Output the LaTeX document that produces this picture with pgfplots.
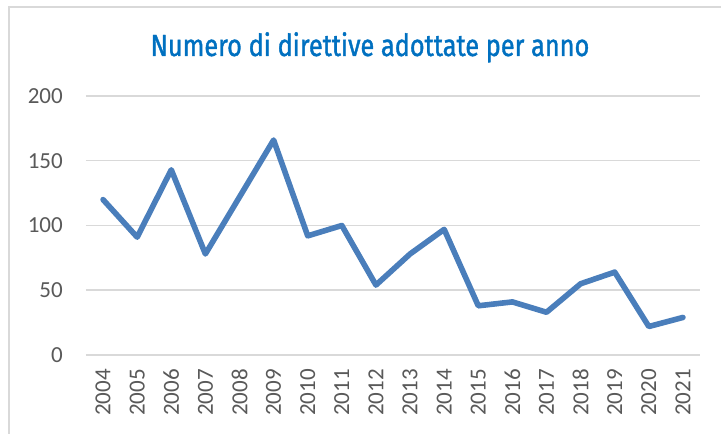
\documentclass[border=0pt]{standalone}
\usepackage{pgfplots}
\pgfplotsset{compat=1.18}
\usepackage{fontspec}
\setmainfont{Carlito}
\newfontfamily\titlefont[FakeStretch=0.83, FakeBold=1.2]{Fira Sans}
\definecolor{linecol}{HTML}{4A7EBB}
\definecolor{gridcol}{HTML}{D9D9D9}
\definecolor{labcol}{HTML}{595959}
\definecolor{titlecol}{HTML}{0070C0}
\begin{document}
\begin{tikzpicture}[x=1pt,y=1pt]
\useasboundingbox (0,0) rectangle (721,434);
\draw[gridcol, line width=2pt] (9,0) -- (9,427) -- (721,427);
\node[anchor=base, text=titlecol, inner sep=0pt] at (370,378)
  {\titlefont\fontsize{30.5}{36}\selectfont Numero di direttive adottate per anno};
\begin{axis}[
  at={(86pt,79pt)}, anchor=south west,
  scale only axis, width=614pt, height=259pt,
  xmin=-0.5, xmax=17.5, ymin=0, ymax=200,
  axis line style={draw=none},
  major tick length=0pt,
  ytick={0,50,100,150,200},
  xtick={0,...,17},
  xticklabels={2004,2005,2006,2007,2008,2009,2010,2011,2012,2013,2014,2015,2016,2017,2018,2019,2020,2021},
  ymajorgrids, grid style={gridcol, line width=1.5pt},
  /pgf/number format/assume math mode=true,
  yticklabel style={font=\fontsize{23}{27}\selectfont, text=labcol, anchor=east, inner sep=0pt, xshift=-23pt},
  xticklabel style={font=\fontsize{23}{27}\selectfont, text=labcol, rotate=90, anchor=east, inner sep=0pt, xshift=-14pt},
  clip=false,
]
\addplot[linecol, line width=5.6pt, line join=round, line cap=round] coordinates {
(0,120) (1,91) (2,143) (3,78) (4,122) (5,166) (6,92) (7,100) (8,54) (9,78)
(10,97) (11,38) (12,41) (13,33) (14,55) (15,64) (16,22) (17,29)
};
\end{axis}
\end{tikzpicture}
\end{document}
